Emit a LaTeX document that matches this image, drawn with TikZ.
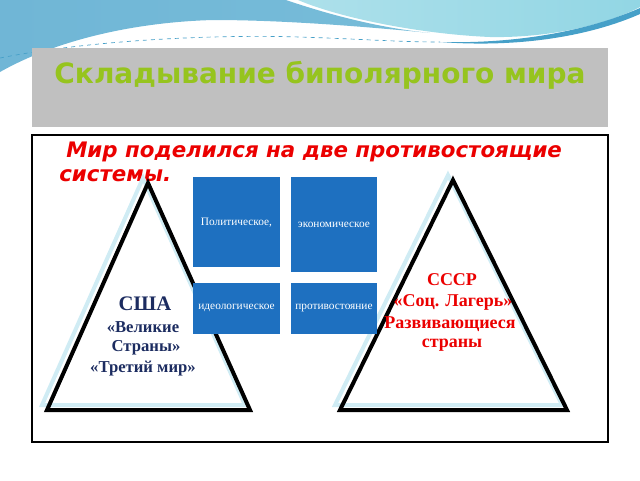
\documentclass[tikz,border=0pt]{standalone}
\usepackage{fontspec}
\setmainfont{Liberation Serif}
\newfontfamily\verdfont{DejaVu Sans}
\definecolor{waveblue}{RGB}{112,182,214}
\definecolor{wavecyan}{RGB}{146,214,228}
\definecolor{wavedark}{RGB}{70,160,200}
\definecolor{titlegray}{RGB}{192,192,192}
\definecolor{titlegreen}{RGB}{150,196,30}
\definecolor{shadowblue}{RGB}{208,236,244}
\definecolor{boxblue}{RGB}{30,112,192}
\definecolor{navytext}{RGB}{28,44,96}
\definecolor{redtext}{RGB}{235,0,0}
\begin{document}
\begin{tikzpicture}[x=0.75pt,y=0.75pt,yscale=-1,xscale=1,
	tri/.style={line width=3pt,line join=miter},
	trishadow/.style={line width=3pt,draw=shadowblue},
	bluebox/.style={fill=boxblue,draw=none},
	boxtext/.style={text=white,font=\fontsize{8.5}{10}\selectfont,inner sep=0.75pt},
	usatext/.style={text=navytext,font=\bfseries\fontsize{12.5}{14}\selectfont,inner sep=0.75pt},
	ussrtext/.style={text=redtext,font=\bfseries\fontsize{13.5}{15}\selectfont,inner sep=0.75pt}]
	\useasboundingbox (0,0) rectangle (640,480);
	% waves on top
	\shade[left color=waveblue,right color=waveblue!80!wavecyan] (0,0) -- (286,0) .. controls (330,15) and (380,28) .. (430,33) .. controls (360,26) and (280,20) .. (213,20) .. controls (140,22) and (60,38) .. (0,72) -- cycle;
	\shade[left color=wavecyan!75!white,right color=wavecyan] (298,0) -- (640,0) -- (640,7) .. controls (600,28) and (540,38) .. (490,37) .. controls (420,34) and (340,18) .. (298,0) -- cycle;
	\fill[wavedark] (440,42) .. controls (520,44) and (590,30) .. (640,8) -- (640,14) .. controls (590,36) and (520,48) .. (440,42) -- cycle;
	\draw[wavedark,dashed,line width=0.5pt] (0,58) .. controls (80,42) and (200,34) .. (300,37) .. controls (360,39) and (400,42) .. (440,42);
	% title
	\fill[titlegray] (32,48) rectangle (608,127);
	\draw (320,75) node (title) [text=titlegreen,font=\verdfont\bfseries\fontsize{21}{24}\selectfont] {Складывание биполярного мира};
	% frame
	\draw[line width=1.8pt] (32,135) rectangle (608,442);
	\draw (65,152) node (line1) [anchor=west,inner sep=0.75pt,text=redtext,font=\verdfont\bfseries\itshape\fontsize{16}{18}\selectfont] {Мир поделился на две противостоящие};
	\draw (58,176) node (line2) [anchor=west,inner sep=0.75pt,text=redtext,font=\verdfont\bfseries\itshape\fontsize{16}{18}\selectfont] {системы.};
	% triangles
	\draw[trishadow] (143,178) -- (245,405) -- (42,405) -- cycle;
	\draw[tri] (148,183) -- (250,410) -- (47,410) -- cycle;
	\draw[trishadow] (448,175) -- (562,405) -- (335,405) -- cycle;
	\draw[tri] (453,180) -- (567,410) -- (340,410) -- cycle;
	% blue boxes
	\fill[bluebox] (193,177) rectangle (280,267);
	\fill[bluebox] (291,177) rectangle (377,272);
	\fill[bluebox] (193,283) rectangle (280,334);
	\fill[bluebox] (291,283) rectangle (377,334);
	\draw (236.5,223) node (pol) [boxtext] {Политическое,};
	\draw (334,225) node (eco) [boxtext] {экономическое};
	\draw (236.5,308) node (ideo) [boxtext] {идеологическое};
	\draw (334,308) node (prot) [boxtext] {противостояние};
	% left
	\draw (145,304) node (usa) [usatext,font=\bfseries\fontsize{15.5}{18}\selectfont] {США};
	\draw (143,327) node (usa1) [usatext] {«Великие};
	\draw (146,348) node (usa2) [usatext] {Страны»};
	\draw (143,369) node (usa3) [usatext] {«Третий мир»};
	% right
	\draw (452,280) node (ussr) [ussrtext] {СССР};
	\draw (453,302) node (ussr1) [ussrtext] {«Соц. Лагерь»};
	\draw (450,324) node (ussr2) [ussrtext] {Развивающиеся};
	\draw (452,345) node (ussr3) [ussrtext] {страны};
\end{tikzpicture}
\end{document}
